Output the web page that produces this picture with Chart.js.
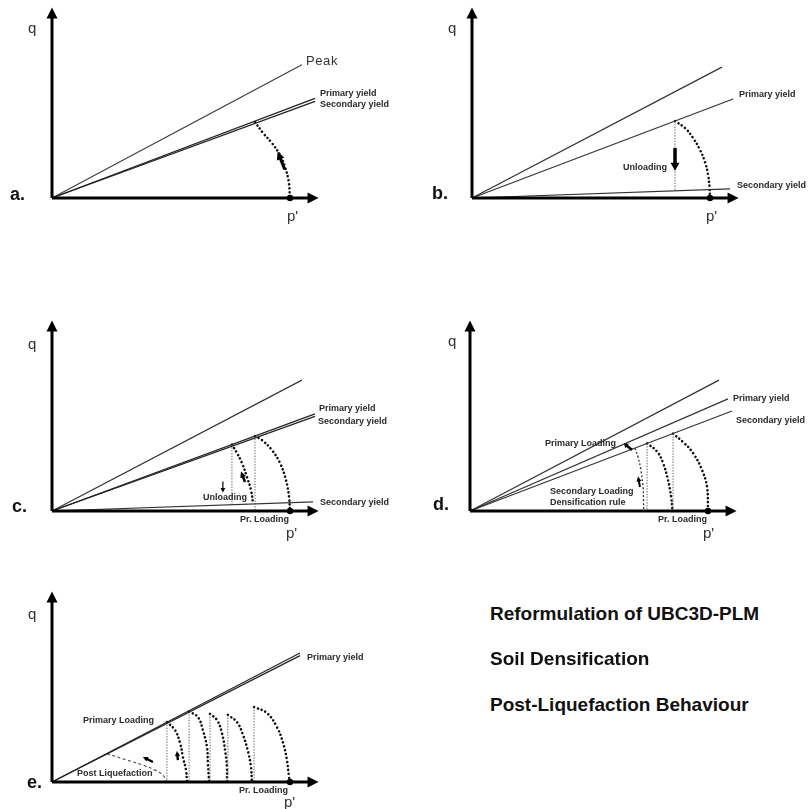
<!DOCTYPE html>
<html>
<head>
<meta charset="utf-8">
<script src="https://cdn.jsdelivr.net/npm/chart.js@4.4.0/dist/chart.umd.min.js"></script>
<style>
  html, body { margin: 0; padding: 0; background: #fff; }
  #page { position: relative; width: 809px; height: 809px; overflow: hidden; font-family: "Liberation Sans", Arial, sans-serif; }
  #page canvas { position: absolute; }
  .t { position: absolute; line-height: 1; white-space: nowrap; color: #222; }
  .s { font-size: 9px; font-weight: bold; color: #2a2a2a; }
  .ax { font-size: 15px; color: #333; }
  .lt { font-size: 18px; font-weight: bold; color: #111; }
  .ttl { font-size: 19px; font-weight: bold; color: #111; }
</style>
</head>
<body>
<div id="page"></div>
<script>
// stress path schematic, p' scaled so that the marked p' = 100
const P0 = 100;
const AXIS_P = 112;
const AXIS_Q = 80;

// a. first loading
const aPeak = [[0, 0], [105, 56]];
const aPrimary = [[0, 0], [110.5, 41.9]];
const aSecondary = [[0, 0], [110.5, 40.6]];
const aPath = [[85.3, 31.9], [88.7, 27.3], [92.4, 23.1], [95.8, 18.1], [97.9, 13], [99.4, 7.2], [100, 0]];
const aArrow = [[97.8, 12], [94.8, 19.5]];

// b. unloading
const bUpper = [[0, 0], [105, 55]];
const bPrimary = [[0, 0], [109.7, 41.6]];
const bSecondary = [[0, 0], [108.4, 3.8]];
const bPath = [[85.3, 32.3], [89.5, 29.4], [92.9, 25.2], [95.8, 20.2], [97.9, 15.1], [99.2, 9.7], [99.8, 4.6], [100, 0]];
const bDrop = [[85.3, 32.3], [85.3, 3.0]];
const bArrow = [[85.3, 21], [85.3, 11.5]];

// c. reloading
const cUpper = [[0, 0], [105, 55]];
const cPrimary = [[0, 0], [110.5, 40.8]];
const cSecondaryHigh = [[0, 0], [110.5, 39.8]];
const cSecondaryLow = [[0, 0], [109.7, 3.8]];
const cPath1 = [[75.6, 27.9], [77.7, 24.4], [79.8, 20.2], [81.9, 14.3], [83.6, 8.8], [84.5, 2.9]];
const cPath2 = [[85.3, 31.5], [88.2, 29.8], [92.4, 25.6], [95.8, 20.2], [98.3, 13], [99.6, 5.9], [100, 0]];
const cDrop1 = [[75.6, 27.9], [75.6, 2.6]];
const cDrop2 = [[85.3, 31.5], [85.3, 0]];
const cReload = [[81.1, 12.2], [79.4, 16.6]];
const cUnload = [[71.8, 12.4], [71.8, 7.8]];

// d. densification
const dUpper = [[0, 0], [104.6, 55]];
const dPrimary = [[0, 0], [108.4, 47.1]];
const dSecondary = [[0, 0], [110.1, 42]];
const dPath1 = [[69.3, 26.4], [70.6, 22.7], [71.8, 17.2], [72.7, 10.1], [72.9, 4.6], [73, 0]];
const dPath2 = [[74.4, 28.4], [78.6, 25], [81.1, 20.2], [83.2, 13], [84.5, 5.9], [85.1, 0]];
const dPath3 = [[85.3, 32.5], [89.5, 29], [93.7, 24.4], [97.5, 17.2], [99.6, 10.1], [100, 0]];
const dDrop1 = [[74.4, 28.4], [74.4, 0]];
const dDrop2 = [[85.3, 32.5], [85.3, 0]];
const dReload = [[71.4, 10.1], [70.6, 14.5]];
const dPrimaryLoad = [[68.1, 25.6], [64.7, 28.4]];

// e. post liquefaction
const ePrimaryA = [[0, 0], [104.2, 54.2]];
const ePrimaryB = [[0, 0], [104.2, 53.1]];
const eDropP = [48.3, 57.6, 66.4, 73.9, 84.9];
const eDropQ = [25.2, 29.6, 28.6, 28.2, 31.5];
const eArc1 = [[48.3, 25.2], [51.7, 21.8], [53.8, 16.4], [55, 10.5], [56.3, 5], [56.7, 0]];
const eArc2 = [[57.6, 29.6], [61.3, 27.3], [63.4, 21.8], [65.1, 14.7], [65.5, 8], [66, 0]];
const eArc3 = [[66.4, 28.6], [69.3, 26.1], [71.4, 20.6], [72.7, 13.4], [73.5, 6.3], [73.5, 0]];
const eArc4 = [[73.9, 28.2], [77.7, 25.2], [80.3, 19.7], [82.4, 12.6], [83.6, 6.3], [84, 0]];
const eArc5 = [[84.9, 31.5], [90.3, 29], [94.5, 23.1], [97.1, 16.4], [98.7, 9.2], [99.6, 2.1], [100, 0]];
const ePostLiq = [[23.1, 11.9], [31.5, 9.2], [38.2, 7.1], [43.3, 5], [46.6, 2.9], [48.3, 0]];
const eArrow1 = [[52.9, 9.2], [52.5, 13]];
const eArrow2 = [[42.4, 8.4], [38.2, 10.5]];

const PX = 2.38; // pixels per unit
const page = document.getElementById('page');

const xy = pts => pts.map(p => ({ x: p[0], y: p[1] }));

function line(pts, w = 1.2, color = '#333') {
    return { data: xy(pts), showLine: true, borderColor: color, borderWidth: w, pointRadius: 0, clip: false };
}
function dots(pts) {
    return { data: xy(pts), showLine: true, borderColor: '#111', borderWidth: 2.6, borderDash: [0.01, 4],
        borderCapStyle: 'round', tension: 0.4, pointRadius: 0, clip: false };
}
function dashed(pts, w = 1.3, color = '#333', dash = [2, 2]) {
    return { data: xy(pts), showLine: true, borderColor: color, borderWidth: w, borderDash: dash,
        tension: 0.4, pointRadius: 0, clip: false };
}
function drop(pts) {
    return { data: xy(pts), showLine: true, borderColor: '#666', borderWidth: 1, borderDash: [1.4, 1.4], pointRadius: 0, clip: false };
}
function arrow(pts, shaft, len, half, color = '#000') {
    return { data: xy(pts), showLine: false, pointRadius: 0, borderColor: color, arrow: { shaft, len, half }, clip: false };
}
function marker() {
    return { data: [{ x: P0, y: 0 }], pointRadius: 3.2, pointHoverRadius: 3.2, backgroundColor: '#000', borderWidth: 0, clip: false };
}
function axes() {
    return [arrow([[0, 0], [0, AXIS_Q]], 3, 11, 5.5), arrow([[0, 0], [AXIS_P, 0]], 3, 11, 5.5)];
}

// draws arrows (shaft + filled head) for datasets carrying an `arrow` option
const arrowPlugin = {
    id: 'arrows',
    afterDatasetsDraw(chart) {
        const ctx = chart.ctx;
        chart.data.datasets.forEach((ds, i) => {
            if (!ds.arrow) return;
            const pts = chart.getDatasetMeta(i).data;
            const a = pts[0], b = pts[pts.length - 1];
            const ang = Math.atan2(b.y - a.y, b.x - a.x);
            const d = Math.hypot(b.x - a.x, b.y - a.y);
            const { shaft, len, half } = ds.arrow;
            ctx.save();
            ctx.translate(a.x, a.y);
            ctx.rotate(ang);
            ctx.strokeStyle = ds.borderColor;
            ctx.fillStyle = ds.borderColor;
            ctx.lineWidth = shaft;
            ctx.beginPath();
            ctx.moveTo(0, 0);
            ctx.lineTo(d - len + 1, 0);
            ctx.stroke();
            ctx.beginPath();
            ctx.moveTo(d, 0);
            ctx.lineTo(d - len, half);
            ctx.lineTo(d - len, -half);
            ctx.closePath();
            ctx.fill();
            ctx.restore();
        });
    }
};

function panel(left, top, w, h, ox, oy, datasets) {
    const c = document.createElement('canvas');
    c.width = w; c.height = h;
    c.style.left = left + 'px'; c.style.top = top + 'px';
    c.style.width = w + 'px'; c.style.height = h + 'px';
    page.appendChild(c);
    return new Chart(c.getContext('2d'), {
        type: 'scatter',
        data: { datasets },
        options: {
            responsive: false, animation: false, devicePixelRatio: 1, events: [],
            layout: { padding: 0, autoPadding: false },
            plugins: { legend: { display: false }, tooltip: { enabled: false } },
            scales: {
                x: { type: 'linear', display: false, min: -(ox - left) / PX, max: (left + w - ox) / PX },
                y: { type: 'linear', display: false, min: -(top + h - oy) / PX, max: (oy - top) / PX }
            }
        },
        plugins: [arrowPlugin]
    });
}

function text(str, x, cy, cls, extra = '') {
    const el = document.createElement('div');
    el.className = 't ' + cls;
    el.textContent = str;
    el.style.left = x + 'px';
    el.style.top = cy + 'px';
    el.style.transform = 'translateY(-50%)';
    if (extra) el.style.cssText += extra;
    page.appendChild(el);
}

// a.
panel(0, 0, 404, 240, 52, 198, [
    line(aPeak, 1.1, '#3a3a3a'), line(aPrimary, 1.3, '#222'), line(aSecondary, 1.3, '#222'),
    dots(aPath), arrow(aArrow, 3, 8, 4), marker(), ...axes()
]);
// b.
panel(404, 0, 405, 240, 472, 198, [
    line(bUpper), line(bPrimary), line(bSecondary),
    drop(bDrop), dots(bPath), arrow(bArrow, 3.5, 8, 4.5), marker(), ...axes()
]);
// c.
panel(0, 300, 404, 240, 52, 511, [
    line(cUpper), line(cPrimary, 1.3, '#222'), line(cSecondaryHigh, 1.3, '#222'), line(cSecondaryLow),
    drop(cDrop1), drop(cDrop2), dots(cPath1), dots(cPath2),
    arrow(cReload, 2.6, 6, 3), arrow(cUnload, 1.2, 4.5, 2.4), marker(), ...axes()
]);
// d.
panel(404, 300, 405, 240, 470, 511, [
    line(dUpper), line(dPrimary), line(dSecondary),
    drop(dDrop1), drop(dDrop2), dashed(dPath1), dots(dPath2), dots(dPath3),
    arrow(dReload, 2, 5, 2.6), arrow(dPrimaryLoad, 2.5, 4, 3), marker(), ...axes()
]);
// e.
panel(0, 575, 404, 234, 52, 782, [
    line(ePrimaryA, 1.2, '#222'), line(ePrimaryB, 1.2, '#222'),
    ...eDropP.map((p, i) => drop([[p, eDropQ[i]], [p, 0]])),
    dots(eArc1), dots(eArc2), dots(eArc3), dots(eArc4), dots(eArc5),
    dashed(ePostLiq, 1.2, '#555', [3, 2.5]),
    arrow(eArrow1, 2.4, 5, 2.6), arrow(eArrow2, 2.4, 5, 2.6), marker(), ...axes()
]);

// labels
text('q', 28, 27, 'ax'); text('a.', 10, 194, 'lt');
text('Peak', 306, 60, 'ax', 'font-size:13px;letter-spacing:0.6px;');
text('Primary yield', 320, 93, 's'); text('Secondary yield', 320, 104, 's');
text("p'", 287, 215, 'ax');

text('q', 448, 27, 'ax'); text('b.', 432, 193, 'lt');
text('Unloading', 623, 167, 's');
text('Primary yield', 739, 94, 's'); text('Secondary yield', 737, 185, 's');
text("p'", 706, 215, 'ax');

text('q', 28, 343, 'ax'); text('c.', 12, 506, 'lt');
text('Primary yield', 319, 408, 's'); text('Secondary yield', 318, 421, 's');
text('Secondary yield', 320, 502, 's');
text('Unloading', 203, 497, 's'); text('Pr. Loading', 240, 519, 's');
text("p'", 286, 532, 'ax');

text('q', 448, 340, 'ax'); text('d.', 433, 504, 'lt');
text('Primary yield', 733, 398, 's'); text('Secondary yield', 736, 420, 's');
text('Primary Loading', 545, 443, 's');
text('Secondary Loading', 550, 491, 's'); text('Densification rule', 550, 502, 's');
text('Pr. Loading', 658, 519, 's');
text("p'", 703, 532, 'ax');

text('q', 28, 613, 'ax'); text('e.', 27, 782, 'lt');
text('Primary yield', 307, 657, 's');
text('Primary Loading', 83, 720, 's'); text('Post Liquefaction', 77, 773, 's');
text('Pr. Loading', 239, 790, 's');
text("p'", 284, 801, 'ax');

text('Reformulation of UBC3D-PLM', 490, 613, 'ttl');
text('Soil Densification', 490, 658, 'ttl');
text('Post-Liquefaction Behaviour', 490, 704, 'ttl');
</script>
</body>
</html>
